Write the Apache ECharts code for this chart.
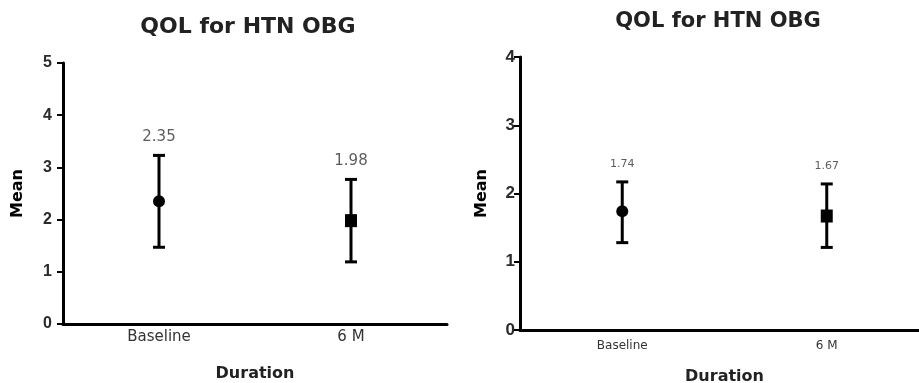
<!DOCTYPE html>
<html>
<head>
<meta charset="utf-8">
<script src="https://cdn.jsdelivr.net/npm/echarts@6/dist/echarts.min.js"></script>
<style>
  html, body { margin: 0; padding: 0; background: #fff; }
  #chart { width: 919px; height: 383px; }
</style>
</head>
<body>
<div id="chart"></div>
<script>
const categories = ["Baseline", "6 M"]
const markerShapes = ["circle", "rect"]

// left panel
const leftMeans = [2.35, 1.98]
const leftUpper = [3.23, 2.77]
const leftLower = [1.47, 1.19]

// right panel
const rightMeans = [1.74, 1.67]
const rightUpper = [2.17, 2.14]
const rightLower = [1.28, 1.21]

const font = "DejaVu Sans, Verdana, sans-serif"
const tickFont = "Liberation Sans, Arial, sans-serif"

const chart = echarts.init(document.getElementById("chart"))

function errorBars(gridIdx, lower, upper) {
  return {
    type: "custom",
    xAxisIndex: gridIdx,
    yAxisIndex: gridIdx,
    silent: true,
    z: 3,
    data: categories.map((c, i) => [i, lower[i], upper[i]]),
    renderItem: (params, api) => {
      const lo = api.coord([api.value(0), api.value(1)])
      const hi = api.coord([api.value(0), api.value(2)])
      const half = 6
      const style = { stroke: "#000", lineWidth: 3 }
      return {
        type: "group",
        children: [
          { type: "line", shape: { x1: hi[0], y1: hi[1], x2: lo[0], y2: lo[1] }, style },
          { type: "line", shape: { x1: hi[0] - half, y1: hi[1], x2: hi[0] + half, y2: hi[1] }, style },
          { type: "line", shape: { x1: lo[0] - half, y1: lo[1], x2: lo[0] + half, y2: lo[1] }, style },
        ],
      }
    },
  }
}

function meanMarks(gridIdx, means) {
  return {
    type: "scatter",
    xAxisIndex: gridIdx,
    yAxisIndex: gridIdx,
    z: 4,
    data: means.map((m, i) => ({
      value: [i, m],
      symbol: markerShapes[i],
      symbolSize: markerShapes[i] === "rect" ? [12, 13] : 12,
    })),
    itemStyle: { color: "#000", opacity: 1 },
  }
}

function valueLabels(gridIdx, means, upper, size, dist) {
  return {
    type: "scatter",
    xAxisIndex: gridIdx,
    yAxisIndex: gridIdx,
    symbolSize: 1,
    silent: true,
    itemStyle: { color: "transparent" },
    data: means.map((m, i) => [i, upper[i], m]),
    label: {
      show: true,
      position: "top",
      distance: dist,
      fontFamily: font,
      fontSize: size,
      color: "#333",
      formatter: (p) => p.value[2].toFixed(2),
    },
  }
}

function xAxisFor(gridIdx, labelSize, margin, nameGap) {
  return {
    type: "category",
    gridIndex: gridIdx,
    data: categories,
    name: "Duration",
    nameLocation: "middle",
    nameGap: nameGap,
    nameTextStyle: { fontFamily: font, fontSize: 16, fontWeight: "bold", color: "#222" },
    axisLine: { lineStyle: { color: "#000", width: 3 } },
    axisTick: { alignWithLabel: true, length: 5, lineStyle: { color: "#000", width: 2 } },
    axisLabel: { fontFamily: font, fontSize: labelSize, color: "#333", margin: margin },
    splitLine: { show: false },
  }
}

function yAxisFor(gridIdx, max, labelSize, margin, nameGap) {
  return {
    type: "value",
    gridIndex: gridIdx,
    min: 0,
    max: max,
    interval: 1,
    name: "Mean",
    nameLocation: "middle",
    nameRotate: 90,
    nameGap: nameGap,
    nameTextStyle: { fontFamily: font, fontSize: 16, fontWeight: "bold", color: "#000" },
    axisLine: { show: true, lineStyle: { color: "#000", width: 3 } },
    axisTick: { show: true, length: 6, lineStyle: { color: "#000", width: 2 } },
    axisLabel: { fontFamily: tickFont, fontSize: labelSize, fontWeight: "bold", color: "#2a2a2a", margin: margin },
    splitLine: { show: false },
  }
}

const option = {
  animation: false,
  backgroundColor: "#fff",
  title: [
    {
      text: "QOL for HTN OBG",
      left: 243,
      top: 11,
      textAlign: "center",
      textStyle: { fontFamily: font, fontSize: 22, fontWeight: "bold", color: "#222" },
    },
    {
      text: "QOL for HTN OBG",
      left: 713,
      top: 6,
      textAlign: "center",
      textStyle: { fontFamily: font, fontSize: 21, fontWeight: "bold", color: "#222" },
    },
  ],
  grid: [
    { left: 63, top: 63, width: 384, bottom: 59, outerBoundsMode: "none" },
    { left: 520, top: 57, right: -10, bottom: 53, outerBoundsMode: "none" },
  ],
  xAxis: [xAxisFor(0, 15, 6, 42), xAxisFor(1, 12, 10, 39)],
  yAxis: [yAxisFor(0, 5, 16, 11, 37), yAxisFor(1, 4, 17, 5, 30)],
  series: [
    errorBars(0, leftLower, leftUpper),
    meanMarks(0, leftMeans),
    valueLabels(0, leftMeans, leftUpper, 15, 10),
    errorBars(1, rightLower, rightUpper),
    meanMarks(1, rightMeans),
    valueLabels(1, rightMeans, rightUpper, 11, 12),
  ],
}

chart.setOption(option)
</script>
</body>
</html>
